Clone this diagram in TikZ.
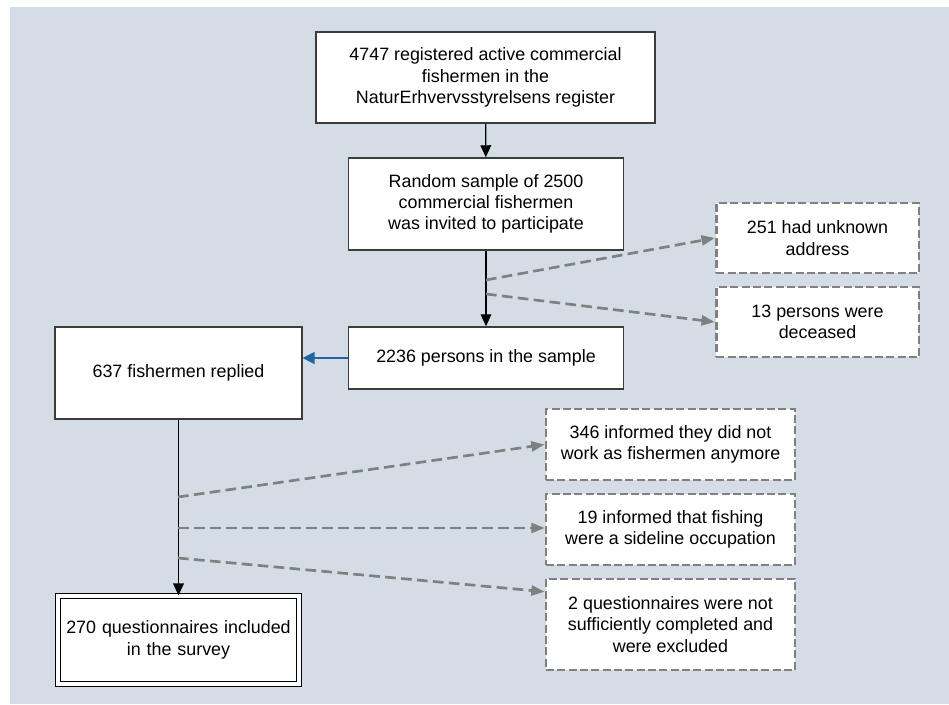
\documentclass[tikz,border=0pt]{standalone}
\usepackage{fontspec}
\setmainfont{Liberation Sans}
\usetikzlibrary{arrows.meta, calc}
\definecolor{bgblue}{RGB}{212,221,230}
\definecolor{dashgray}{RGB}{128,128,128}
\definecolor{boxline}{RGB}{60,60,60}
\definecolor{linkblue}{RGB}{31,101,163}

\tikzset{
  flowbox/.style={draw=boxline, line width=1.1pt, fill=white, align=center,
    inner sep=2pt, font=\fontsize{13.4}{16}\selectfont},
  dropbox/.style={flowbox, draw=dashgray, line width=2pt, dash pattern=on 6pt off 2.5pt},
  finalbox/.style={flowbox, draw=black, double, line width=0.8pt, double distance=3pt,
    text width=172pt, align=center},
  mainarrow/.style={-{Triangle[length=9pt,width=8pt]}, line width=0.9pt},
  droparrow/.style={-{Triangle[length=10pt,width=7.5pt]}, draw=dashgray, line width=2pt,
    dash pattern=on 8pt off 4pt},
  bluearrow/.style={-{Triangle[length=9pt,width=9pt]}, draw=linkblue, fill=linkblue, line width=0.9pt},
}

\begin{document}
\begin{tikzpicture}[x=0.75pt, y=-0.75pt]
\useasboundingbox (0,0) rectangle (949,705);
% background panel
\fill[bgblue] (10,7) rectangle (949,704);

% main flow
\node[flowbox, minimum width=254pt, minimum height=68pt] (reg) at (485.5,77.5)
  {4747 registered active commercial\\fishermen in the\\NaturErhvervsstyrelsens register};
\node[flowbox, minimum width=206pt, minimum height=69pt] (sample) at (486,204)
  {Random sample of 2500\\commercial fishermen\\was invited to participate};
\node[flowbox, minimum width=206pt, minimum height=46.5pt] (persons) at (486,358)
  {2236 persons in the sample};
\node[flowbox, minimum width=185pt, minimum height=69pt] (replied) at (178.5,373)
  {637 fishermen replied};
\node[finalbox, minimum width=181pt, minimum height=66pt] (included) at (178.5,640)
  {270 questionnaires included\\in the survey};

% excluded before reply
\node[dropbox, minimum width=152pt, minimum height=52.5pt] (unknown) at (817.5,238)
  {251 had unknown\\address};
\node[dropbox, minimum width=152pt, minimum height=52.5pt] (deceased) at (817.5,322)
  {13 persons were\\deceased};

% excluded after reply
\node[dropbox, minimum width=186.75pt, minimum height=53.25pt] (quit) at (670.5,444.5)
  {346 informed they did not\\work as fishermen anymore};
\node[dropbox, minimum width=186.75pt, minimum height=53.25pt] (side) at (670.5,529.5)
  {19 informed that fishing\\were a sideline occupation};
\node[dropbox, minimum width=186.75pt, minimum height=68.25pt] (incomplete) at (670.5,624.5)
  {2 questionnaires were not\\sufficiently completed and\\were excluded};

\coordinate (addrsplit) at (486,280);
\coordinate (deadsplit) at (486,294);
\coordinate (quitsplit) at (178,497);
\coordinate (sidesplit) at (178,528);
\coordinate (incsplit) at (178,558);

\draw[mainarrow] (reg) -- (sample);
\draw[mainarrow] (sample) -- (persons);
\draw[droparrow] (addrsplit) -- (unknown.west);
\draw[droparrow] (deadsplit) -- (deceased.west);
\draw[bluearrow] (persons.west) -- (persons.west -| replied.east);
\draw[mainarrow] (replied) -- (included);
\draw[droparrow] (quitsplit) -- (quit.west);
\draw[droparrow] (sidesplit) -- (sidesplit -| side.west);
\draw[droparrow] (incsplit) -- ($(incomplete.north west)!0.3!(incomplete.west)$);
\end{tikzpicture}
\end{document}
